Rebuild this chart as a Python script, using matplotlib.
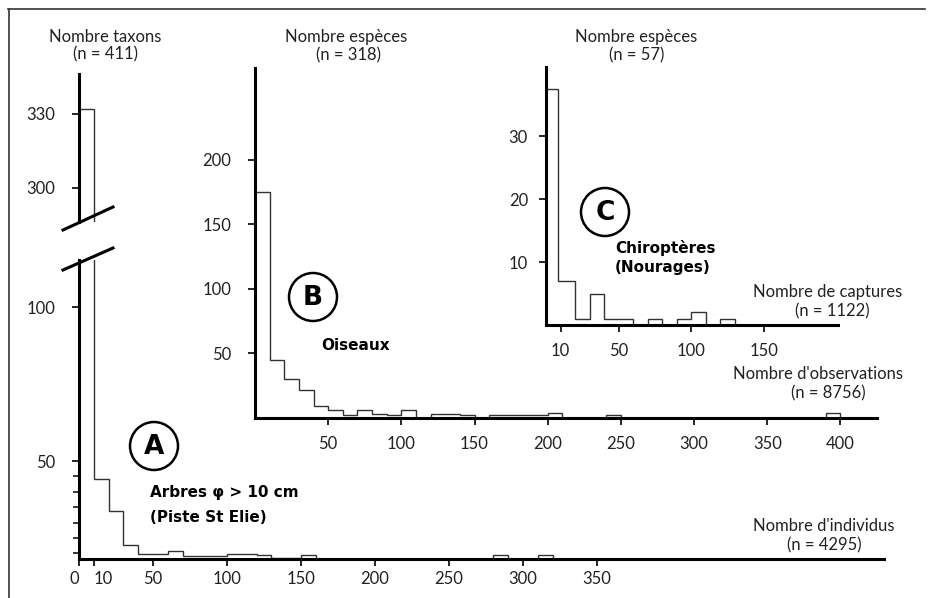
import matplotlib
matplotlib.use('Agg')
import matplotlib.pyplot as plt
from matplotlib.lines import Line2D
from matplotlib.patches import Circle

plt.rcParams['font.family'] = ['Lato', 'DejaVu Sans']

W, H = 929, 598

# A : arbres (Piste St Elie), classes de 10 individus
A_EDGES = [0, 10, 20, 30, 40, 50, 60, 70, 80, 90, 100, 110, 120, 130, 140, 150, 160,
           170, 180, 190, 200, 210, 220, 230, 240, 250, 260, 270, 280, 290, 300, 310, 320]
A_COUNTS = [332, 44.2, 33.8, 22.7, 19.8, 19.8, 20.8, 19.2, 19.2, 19.2, 19.8, 19.8, 19.5,
            18.5, 18.5, 19.5, 0, 0, 0, 0, 0, 0, 0, 0, 0, 0, 0, 0, 19.5, 0, 0, 19.5]
A_XTICKS = [0, 10, 50, 100, 150, 200, 250, 300, 350]
A_YTICKS_LOW = [50, 100]
A_YMINOR = [20, 25, 30, 35, 40, 45]
A_YTICKS_HIGH = [300, 330]

# B : oiseaux
B_EDGES = [0, 10, 20, 30, 40, 50, 60, 70, 80, 90, 100, 110, 120, 130, 140, 150, 160, 170,
           180, 190, 200, 210, 220, 230, 240, 250, 260, 270, 280, 290, 300, 310, 320, 330,
           340, 350, 360, 370, 380, 390, 400]
B_COUNTS = [175, 45, 30, 22, 9, 6, 2, 6, 3, 2, 6, 0, 3, 3, 2, 0, 2, 2, 2, 2, 4, 0, 0, 0, 2,
            0, 0, 0, 0, 0, 0, 0, 0, 0, 0, 0, 0, 0, 0, 4]
B_XTICKS = [50, 100, 150, 200, 250, 300, 350, 400]
B_YTICKS = [50, 100, 150, 200]

# C : chiropteres (Nouragues)
C_EDGES = [0, 8, 20, 30, 40, 60, 70, 80, 90, 100, 110, 120, 130]
C_COUNTS = [37.5, 7, 1, 5, 1, 0, 1, 0, 1, 2, 0, 1]
C_XTICKS = [10, 50, 100, 150]
C_YTICKS = [10, 20, 30]

fig = plt.figure(figsize=(W / 100, H / 100), dpi=100)


def rect(x0, y0, x1, y1):
    return [x0 / W, 1 - y1 / H, (x1 - x0) / W, (y1 - y0) / H]


def fpos(x, y):
    return x / W, 1 - y / H


def style(ax, xlim, ylim):
    ax.set_facecolor('none')
    ax.set_xlim(xlim)
    ax.set_ylim(ylim)
    for s in ['top', 'right']:
        ax.spines[s].set_visible(False)
    for s in ['left', 'bottom']:
        ax.spines[s].set_linewidth(2.2)
    ax.tick_params(direction='out', length=5, width=1.2, labelsize=12, labelcolor='#222222')


# --- A, partie basse
axA = fig.add_axes(rect(79, 260, 884, 559))
axA.stairs(A_COUNTS, A_EDGES, baseline=0, color='#333333', lw=1)
axA.set_xticks(A_XTICKS)
axA.set_yticks(A_YTICKS_LOW)
axA.set_yticks(A_YMINOR, minor=True)
style(axA, (0, 544), (18.2, 115.3))
axA.tick_params(axis='y', which='minor', length=4, width=1.1)
axA.tick_params(axis='y', pad=12)
axA.tick_params(axis='x', pad=4)
axA.get_xticklabels()[0].set_horizontalalignment('right')
axA.get_xticklabels()[1].set_horizontalalignment('left')

# --- A, partie haute
axAu = fig.add_axes(rect(79, 74, 140, 222))
axAu.stairs(A_COUNTS, A_EDGES, baseline=0, color='#333333', lw=1)
axAu.set_xticks([])
axAu.set_yticks(A_YTICKS_HIGH)
style(axAu, (0, 61 / 1.48), (286.2, 346.2))
axAu.spines['bottom'].set_visible(False)
axAu.tick_params(axis='y', pad=12)

# coupure de l'axe
for y0, y1 in [(230, 207), (270, 248)]:
    x0f, y0f = fpos(63, y0)
    x1f, y1f = fpos(113, y1)
    fig.add_artist(Line2D([x0f, x1f], [y0f, y1f], color='black', lw=2.2))

# --- B
axB = fig.add_axes(rect(255, 68, 877, 418))
axB.stairs(B_COUNTS, B_EDGES, baseline=0, color='#333333', lw=1)
axB.set_xticks(B_XTICKS)
axB.set_yticks(B_YTICKS)
style(axB, (0, 425), (0, 271))
axB.tick_params(axis='y', pad=12)
axB.tick_params(axis='x', pad=8)

# --- C
axC = fig.add_axes(rect(546, 67, 838, 325))
axC.stairs(C_COUNTS, C_EDGES, baseline=0, color='#333333', lw=1)
axC.set_xticks(C_XTICKS)
axC.set_yticks(C_YTICKS)
style(axC, (0, 201), (0, 41))
axC.tick_params(axis='y', pad=8)
axC.tick_params(axis='x', pad=8)

# cadre
for xs, ys in [([8, 925], [9, 9]), ([9, 9], [9, 598])]:
    pts = [fpos(x, y) for x, y in zip(xs, ys)]
    fig.add_artist(Line2D([p[0] for p in pts], [p[1] for p in pts], color='#333333', lw=1.2))

# textes
labels = [
    (105, 37, 'Nombre taxons'), (106, 54, '(n = 411)'),
    (346, 37, 'Nombre espèces'), (348, 55, '(n = 318)'),
    (636, 37, 'Nombre espèces'), (637, 55, '(n = 57)'),
    (828, 292, 'Nombre de captures'), (832, 311, '(n = 1122)'),
    (818, 374, "Nombre d'observations"), (828, 393, '(n = 8756)'),
    (824, 526, "Nombre d'individus"), (824, 545, '(n = 4295)'),
]
for x, y, t in labels:
    fig.text(*fpos(x, y), t, ha='center', va='center', fontsize=12, color='#222222')

bold = [
    (150, 493, 'Arbres \u03c6 > 10 cm'), (150, 517, '(Piste St Elie)'),
    (321, 346, 'Oiseaux'),
    (615, 248, 'Chiroptères'), (615, 268, '(Nourages)'),
]
for x, y, t in bold:
    fig.text(*fpos(x, y), t, ha='left', va='center', fontsize=11, fontweight='bold',
             family='DejaVu Sans')

for x, y, t in [(154, 446, 'A'), (313, 297, 'B'), (605, 212, 'C')]:
    fig.add_artist(Circle((x / 100, (H - y) / 100), 0.24, transform=fig.dpi_scale_trans,
                          fill=False, lw=1.8, color='black'))
    fig.text(*fpos(x, y + 1), t, ha='center', va='center', fontsize=19, fontweight='bold',
             family='DejaVu Sans')

fig.savefig('out.png', dpi=100)
